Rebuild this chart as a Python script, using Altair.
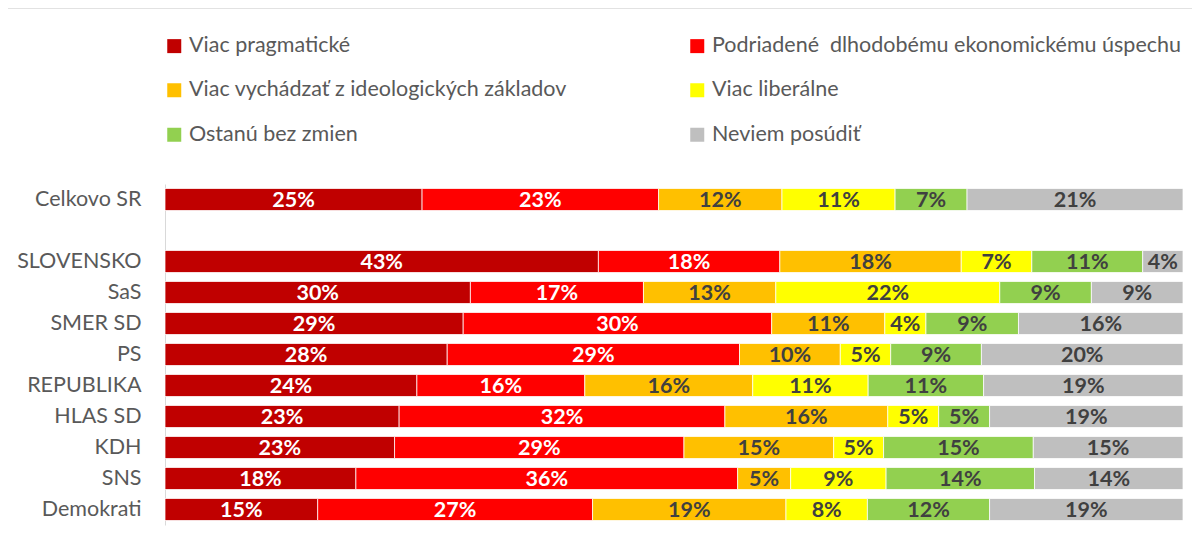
import altair as alt
import pandas as pd

categories = ["Celkovo SR", "SLOVENSKO", "SaS", "SMER SD", "PS", "REPUBLIKA",
              "HLAS SD", "KDH", "SNS", "Demokrati"]
y_domain = ["Celkovo SR", " ", "SLOVENSKO", "SaS", "SMER SD", "PS", "REPUBLIKA",
            "HLAS SD", "KDH", "SNS", "Demokrati"]
series = ["Viac pragmatické", "Podriadené\u00a0 dlhodobému ekonomickému úspechu",
          "Viac vychádzať z ideologických základov", "Viac liberálne",
          "Ostanú bez zmien", "Neviem posúdiť"]
colors = ["#C00000", "#FF0000", "#FFC000", "#FFFF00", "#92D050", "#BFBFBF"]
text_colors = ["#FFFFFF", "#FFFFFF", "#404040", "#404040", "#404040", "#404040"]

pragmaticke = [25, 43, 30, 29, 28, 24, 23, 23, 18, 15]
podriadene = [23, 18, 17, 30, 29, 16, 32, 29, 36, 27]
ideologicke = [12, 18, 13, 11, 10, 16, 16, 15, 5, 19]
liberalne = [11, 7, 22, 4, 5, 11, 5, 5, 9, 8]
bez_zmien = [7, 11, 9, 9, 9, 11, 5, 15, 14, 12]
neviem = [21, 4, 9, 16, 20, 19, 19, 15, 14, 19]

values = [pragmaticke, podriadene, ideologicke, liberalne, bez_zmien, neviem]

rows = []
for si, (s, vals) in enumerate(zip(series, values)):
    for c, v in zip(categories, vals):
        rows.append({"cat": c, "series": s, "order": si, "value": v,
                     "label": f"{v}%", "tcolor": text_colors[si]})
df = pd.DataFrame(rows)

FONT = "Lato"

base = alt.Chart(df).transform_joinaggregate(
    total="sum(value)", groupby=["cat"]
).transform_window(
    cum="sum(value)", sort=[alt.SortField("order")], groupby=["cat"],
    frame=[None, 0]
).transform_calculate(
    x_end="datum.cum / datum.total",
    x_start="(datum.cum - datum.value) / datum.total",
    x_mid="(datum.cum - datum.value / 2) / datum.total",
)

yenc = alt.Y("cat:N", scale=alt.Scale(domain=y_domain, paddingInner=0.29, paddingOuter=0.145),
             axis=alt.Axis(title=None, ticks=False, domain=True, domainColor="#D9D9D9",
                           labelFont=FONT, labelFontSize=21.5, labelColor="#595959",
                           labelPadding=24))
xscale = alt.Scale(domain=[0, 1], nice=False, zero=True)

bars = base.mark_bar(stroke="white", strokeWidth=0.75).encode(
    y=yenc,
    x=alt.X("x_start:Q", scale=xscale, axis=None),
    x2="x_end:Q",
    color=alt.Color("series:N", scale=alt.Scale(domain=series, range=colors),
                    legend=alt.Legend(title=None, orient="none", legendX=-1.5, legendY=-149,
                                      direction="horizontal",
                                      columns=2, columnPadding=119, rowPadding=21.5,
                                      symbolType="square", symbolSize=196,
                                      symbolStrokeWidth=0, labelFont=FONT,
                                      labelFontSize=21.5, labelColor="#595959",
                                      labelLimit=0, labelOffset=4)),
)

texts = base.mark_text(font=FONT, fontSize=21.5, fontWeight="bold", baseline="middle",
                       align="center", dy=1).encode(
    y=alt.Y("cat:N", scale=alt.Scale(domain=y_domain)),
    x=alt.X("x_mid:Q", scale=xscale),
    text="label:N",
    color=alt.Color("tcolor:N", scale=None, legend=None),
)

border = alt.Chart(pd.DataFrame({"k": [0]})).mark_rule(color="#D9D9D9", strokeWidth=1.5).encode(
    x=alt.value(-158), x2=alt.value(1100), y=alt.value(-176)
)
border_left = alt.Chart(pd.DataFrame({"k": [0]})).mark_rule(color="#D9D9D9", strokeWidth=1.5).encode(
    x=alt.value(-158), y=alt.value(-176), y2=alt.value(400)
)

chart = alt.layer(border, border_left, bars, texts).properties(
    width=1018, height=341,
    padding={"left": 157, "top": 176, "right": 9, "bottom": 15},
    autosize=alt.AutoSizeParams(type="none"),
).configure_view(stroke=None)

chart.save("out.html", embed_options={"renderer": "svg", "actions": False})
